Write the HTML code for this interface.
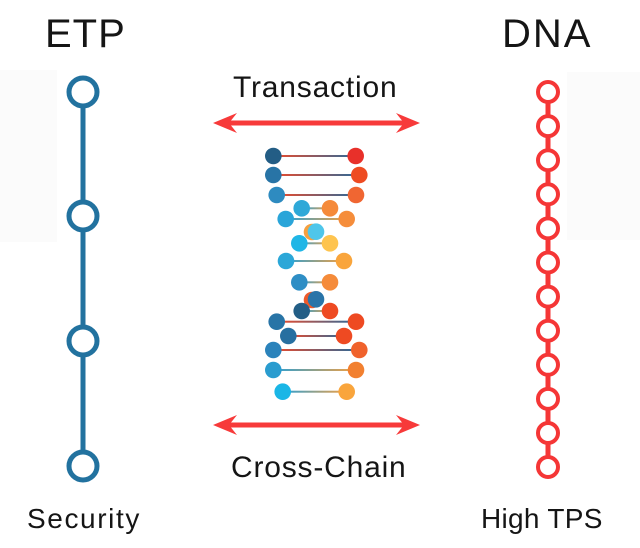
<!DOCTYPE html>
<html>
<head>
<meta charset="utf-8">
<style>
html,body{margin:0;padding:0;background:#fff;}
svg{display:block;}
text{font-family:"Liberation Sans",sans-serif;fill:#151515;}
</style>
</head>
<body>
<svg width="640" height="548" viewBox="0 0 640 548" xmlns="http://www.w3.org/2000/svg">
  <defs>
    <linearGradient id="g1" x1="0" x2="1" y1="0" y2="0">
      <stop offset="0" stop-color="#ee4a2a"/>
      <stop offset="1" stop-color="#2a6a9a"/>
    </linearGradient>
    <linearGradient id="g2" x1="0" x2="1" y1="0" y2="0">
      <stop offset="0" stop-color="#2aa0d5"/>
      <stop offset="1" stop-color="#f5a040"/>
    </linearGradient>
  </defs>
  <!-- faint side bands -->
  <rect x="0" y="70" width="57" height="172" fill="#fbfbfb"/>
  <rect x="567" y="72" width="73" height="168" fill="#fbfbfb"/>

  <!-- Titles -->
  <text x="45" y="47" font-size="40" letter-spacing="1">ETP</text>
  <text x="502" y="47" font-size="40" letter-spacing="2">DNA</text>
  <text x="233" y="97" font-size="30" letter-spacing="0.8">Transaction</text>
  <text x="231" y="477" font-size="30" letter-spacing="0.8">Cross-Chain</text>
  <text x="27" y="528" font-size="28" letter-spacing="1.6">Security</text>
  <text x="481" y="528" font-size="28" letter-spacing="0.3">High TPS</text>

  <!-- ETP chain -->
  <g stroke="#22729f" stroke-width="5" fill="#fff">
    <line x1="83" y1="92" x2="83" y2="466"/>
    <circle cx="83" cy="92" r="14"/>
    <circle cx="83" cy="216" r="14"/>
    <circle cx="83" cy="341" r="14"/>
    <circle cx="83" cy="466" r="14"/>
  </g>

  <!-- DNA chain -->
  <g stroke="#f53636" stroke-width="4" fill="#fff">
    <line x1="548" y1="92" x2="548" y2="467" stroke-width="5"/>
    <circle cx="548" cy="92" r="10"/>
    <circle cx="548" cy="126.1" r="10"/>
    <circle cx="548" cy="160.2" r="10"/>
    <circle cx="548" cy="194.3" r="10"/>
    <circle cx="548" cy="228.4" r="10"/>
    <circle cx="548" cy="262.5" r="10"/>
    <circle cx="548" cy="296.6" r="10"/>
    <circle cx="548" cy="330.7" r="10"/>
    <circle cx="548" cy="364.8" r="10"/>
    <circle cx="548" cy="398.9" r="10"/>
    <circle cx="548" cy="433" r="10"/>
    <circle cx="548" cy="467" r="10"/>
  </g>

  <!-- Arrows -->
  <g fill="#f73a3a">
    <polygon points="213,123 237,113 231,120.5 402,120.5 396,113 420,123 396,133 402,125.5 231,125.5 237,133"/>
    <polygon points="213,425 237,415 231,422.5 402,422.5 396,415 420,425 396,435 402,427.5 231,427.5 237,435"/>
  </g>

  <!-- DNA helix rungs -->
  <g>
    <rect x="273" y="155" width="83" height="2" fill="url(#g1)"/>
    <rect x="273" y="174" width="86" height="2" fill="url(#g1)"/>
    <rect x="277" y="194" width="79" height="2" fill="url(#g1)"/>
    <rect x="302" y="207.3" width="28" height="2" fill="url(#g2)"/>
    <rect x="286" y="218" width="61" height="2" fill="url(#g2)"/>
    <rect x="299" y="242.3" width="31" height="2" fill="url(#g2)"/>
    <rect x="286" y="260" width="58" height="2" fill="url(#g2)"/>
    <rect x="299" y="281.3" width="31" height="2" fill="url(#g2)"/>
    <rect x="302" y="310" width="28" height="2" fill="url(#g2)"/>
    <rect x="277" y="320.7" width="79" height="2" fill="url(#g1)"/>
    <rect x="288" y="335" width="56" height="2" fill="url(#g1)"/>
    <rect x="273" y="349" width="86" height="2" fill="url(#g1)"/>
    <rect x="273" y="369" width="83" height="2" fill="url(#g2)"/>
    <rect x="283" y="390.7" width="64" height="2" fill="url(#g2)"/>
  </g>
  <g>
    <circle cx="273.3" cy="156" r="8.3" fill="#235d85"/>
    <circle cx="355.7" cy="156" r="8.3" fill="#e8302a"/>
    <circle cx="273.3" cy="175" r="8.3" fill="#2874a6"/>
    <circle cx="359.3" cy="175" r="8.3" fill="#ee4b22"/>
    <circle cx="276.7" cy="195" r="8.3" fill="#2e8bc0"/>
    <circle cx="356" cy="195" r="8.3" fill="#f06632"/>
    <circle cx="285.7" cy="219" r="8.3" fill="#2aa5d9"/>
    <circle cx="346.7" cy="219" r="8.3" fill="#f58d3b"/>
    <circle cx="301.7" cy="208.3" r="8.3" fill="#2ea8d8"/>
    <circle cx="330" cy="208.3" r="8.3" fill="#f58a3a"/>
    <circle cx="312" cy="232" r="8.3" fill="#f5a040"/>
    <circle cx="316" cy="231.7" r="8.3" fill="#4fc6ea"/>
    <circle cx="299.3" cy="243.3" r="8.3" fill="#1fb6e6"/>
    <circle cx="330" cy="243.3" r="8.3" fill="#fec44f"/>
    <circle cx="286" cy="261" r="8.3" fill="#2ba7d8"/>
    <circle cx="344" cy="261" r="8.3" fill="#f9a53c"/>
    <circle cx="299.3" cy="282.3" r="8.3" fill="#2e8ec5"/>
    <circle cx="330" cy="282.3" r="8.3" fill="#f58b3a"/>
    <circle cx="312" cy="300" r="8.3" fill="#ee5a2a"/>
    <circle cx="316" cy="299.3" r="8.3" fill="#2a74a8"/>
    <circle cx="276.7" cy="321.7" r="8.3" fill="#2874a6"/>
    <circle cx="356" cy="321.7" r="8.3" fill="#ee4a22"/>
    <circle cx="301.7" cy="311" r="8.3" fill="#235e86"/>
    <circle cx="330" cy="311" r="8.3" fill="#ee4a22"/>
    <circle cx="288.3" cy="336" r="8.3" fill="#276fa0"/>
    <circle cx="344" cy="336" r="8.3" fill="#ee4a22"/>
    <circle cx="273.3" cy="350" r="8.3" fill="#2b83bb"/>
    <circle cx="359.3" cy="350" r="8.3" fill="#f0622c"/>
    <circle cx="273.3" cy="370" r="8.3" fill="#2a9ccf"/>
    <circle cx="356" cy="370" r="8.3" fill="#f28030"/>
    <circle cx="282.7" cy="391.7" r="8.3" fill="#1ab6e6"/>
    <circle cx="346.7" cy="391.7" r="8.3" fill="#f9a53c"/>
  </g>
</svg>
</body>
</html>
